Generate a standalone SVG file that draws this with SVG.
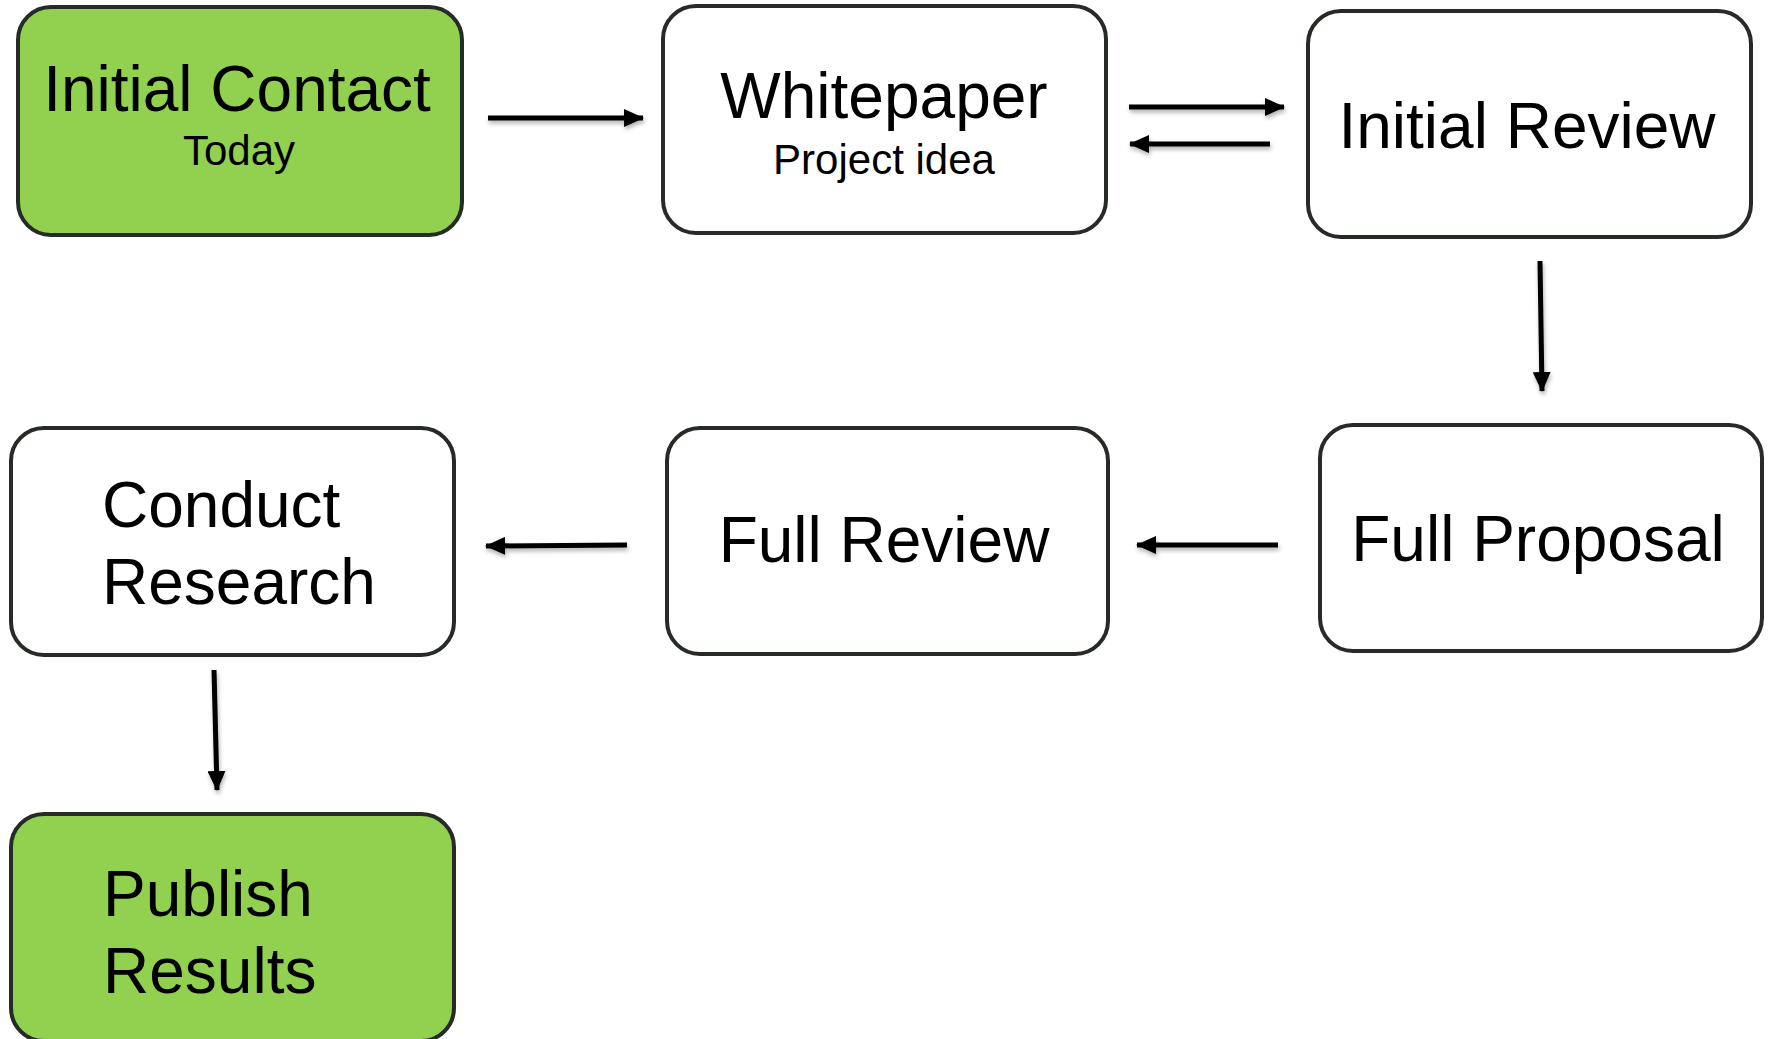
<svg xmlns="http://www.w3.org/2000/svg" width="1769" height="1039" viewBox="0 0 1769 1039">
<style>
.box{fill:#ffffff;stroke:#262b26;stroke-width:4}
.green{fill:#92d050}
.t{font-family:"Liberation Sans",Arial,sans-serif;fill:#000000}
.big{font-size:64px}
.small{font-size:42px}
.c{text-anchor:middle}
</style>
<defs>
<marker id="ah" viewBox="0 0 20 18" refX="19" refY="9" markerWidth="20" markerHeight="18" orient="auto" markerUnits="userSpaceOnUse">
<path d="M0,0 L20,9 L0,18 z" fill="#000000"/>
</marker>
<filter id="sh" filterUnits="userSpaceOnUse" x="0" y="0" width="1769" height="1039">
<feDropShadow dx="1" dy="3" stdDeviation="2" flood-color="#000000" flood-opacity="0.3"/>
</filter>
</defs>
<g id="initial-contact">
<rect class="box green" x="18" y="7" width="444" height="228" rx="33"/>
<text class="t big c" x="237" y="111">Initial Contact</text>
<text class="t small c" x="239" y="165">Today</text>
</g>
<g id="whitepaper">
<rect class="box" x="663" y="6" width="443" height="227" rx="33"/>
<text class="t big c" x="884" y="118">Whitepaper</text>
<text class="t small c" x="884" y="174">Project idea</text>
</g>
<g id="initial-review">
<rect class="box" x="1308" y="11" width="443" height="226" rx="33"/>
<text class="t big c" x="1527" y="148">Initial Review</text>
</g>
<g id="full-proposal">
<rect class="box" x="1320" y="425" width="442" height="226" rx="33"/>
<text class="t big c" x="1538" y="561">Full Proposal</text>
</g>
<g id="full-review">
<rect class="box" x="667" y="428" width="441" height="226" rx="33"/>
<text class="t big c" x="884" y="562">Full Review</text>
</g>
<g id="conduct-research">
<rect class="box" x="11" y="428" width="443" height="227" rx="33"/>
<text class="t big" x="102" y="527">Conduct</text>
<text class="t big" x="102" y="604">Research</text>
</g>
<g id="publish-results">
<rect class="box green" x="11" y="814" width="443" height="227" rx="33"/>
<text class="t big" x="103" y="916">Publish</text>
<text class="t big" x="103" y="993">Results</text>
</g>
<g id="connectors" stroke="#000000" stroke-width="5" marker-end="url(#ah)" filter="url(#sh)">
<line x1="488" y1="118" x2="643" y2="118" marker-end="url(#ah)"/>
<line x1="1129" y1="107" x2="1284" y2="107" marker-end="url(#ah)"/>
<line x1="1270" y1="144" x2="1130" y2="144" marker-end="url(#ah)"/>
<line x1="1540" y1="261" x2="1542" y2="391" marker-end="url(#ah)"/>
<line x1="1278" y1="545" x2="1137" y2="545" marker-end="url(#ah)"/>
<line x1="627" y1="545" x2="486" y2="546" marker-end="url(#ah)"/>
<line x1="214" y1="670" x2="217" y2="790" marker-end="url(#ah)"/>
</g>
</svg>
